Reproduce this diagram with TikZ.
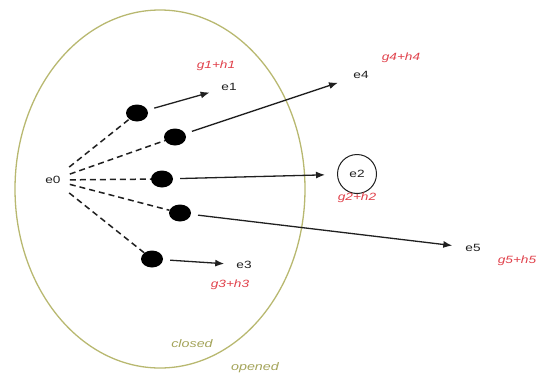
\documentclass[tikz,border=0pt]{standalone}
\usepackage{fontspec}
\setmainfont{Liberation Sans}[FakeStretch=1.3]
\usetikzlibrary{arrows.meta,shapes.geometric}
\definecolor{olivec}{HTML}{B8B870}
\definecolor{olivetxt}{HTML}{A4A45A}
\definecolor{redtxt}{HTML}{E0404A}
\definecolor{inkc}{HTML}{202020}
\tikzset{
  dot/.style={ellipse, fill=black, minimum width=22pt, minimum height=17pt, inner sep=0pt},
  lbl/.style={font=\fontsize{10.5}{12}\selectfont, text=inkc, inner sep=1pt},
  cost/.style={font=\fontsize{10.5}{12}\selectfont\itshape, text=redtxt, inner sep=0pt},
  settxt/.style={font=\fontsize{11}{12}\selectfont\itshape, text=olivetxt, inner sep=0pt},
  dashln/.style={draw=inkc, line width=1.5pt, dash pattern=on 6pt off 4pt},
  arr/.style={draw=inkc, line width=1.3pt, shorten <=7pt, -{Latex[length=9pt,width=7pt]}},
}
\begin{document}
\begin{tikzpicture}[x=1pt,y=-1pt]
\useasboundingbox (0,0) rectangle (543,378);
% opened set boundary
\draw[olivec, line width=1.3pt] (160,189) ellipse [x radius=145, y radius=179];
% start node
\node[lbl, inner sep=9pt] (e0) at (53,180) {e0};
% expanded nodes
\node[dot] (d1) at (137,113) {};
\node[dot] (d2) at (175,137) {};
\node[dot] (d3) at (162,179) {};
\node[dot] (d4) at (180,213) {};
\node[dot] (d5) at (152,259) {};
% successors
\node[lbl] (e1) at (229,87) {e1};
\node[lbl] (e4) at (361,75) {e4};
\node[lbl, draw=inkc, line width=1pt, circle, minimum size=39pt, inner sep=0pt] (e2) at (357,174) {e2};
\node[lbl] (e5) at (473,248) {e5};
\node[lbl] (e3) at (244,265) {e3};
% costs
\node[cost] (c1) at (216,66) {g1+h1};
\node[cost] (c4) at (401,58) {g4+h4};
\node[cost] (c2) at (357,198) {g2+h2};
\node[cost] (c5) at (517,261) {g5+h5};
\node[cost] (c3) at (230,285) {g3+h3};
% set labels
\node[settxt] (closed) at (192,344) {closed};
\node[settxt] (opened) at (255,368) {opened};
% dashed edges
\foreach \d in {d1,d2,d3,d4,d5} \draw[dashln] (e0) -- (\d);
% arrows
\draw[arr, shorten >=11pt] (d1) -- (e1);
\draw[arr, shorten >=15pt] (d2) -- (e4);
\draw[arr, shorten >=12pt] (d3) -- (e2);
\draw[arr, shorten >=12pt] (d4) -- (e5);
\draw[arr, shorten >=11pt] (d5) -- (e3);
\end{tikzpicture}
\end{document}
